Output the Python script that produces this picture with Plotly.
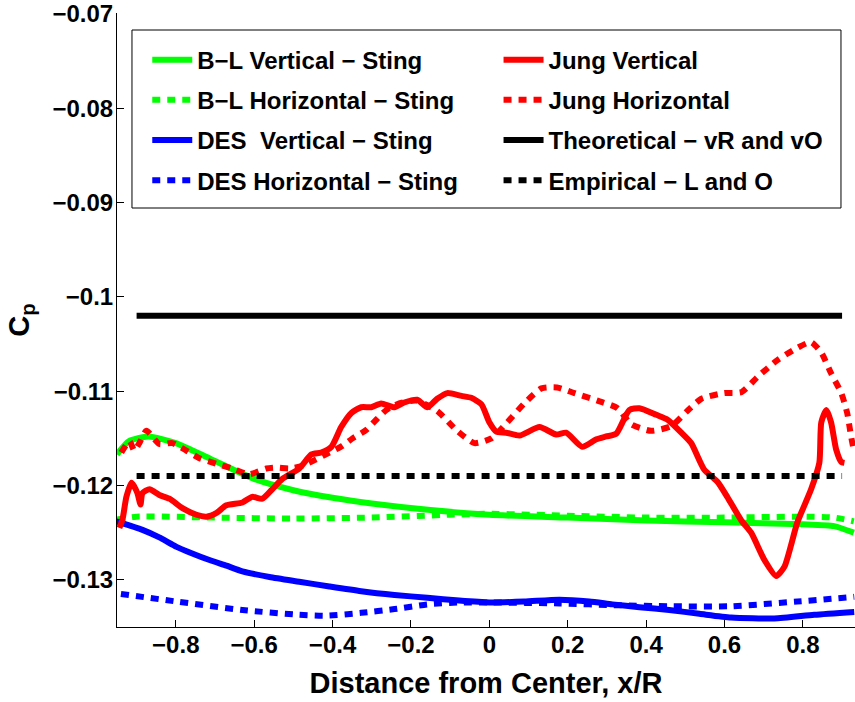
import plotly.graph_objects as go

# --- data ---
bl_vert_x = [-0.95, -0.92, -0.87, -0.8, -0.71, -0.6, -0.5, -0.4, -0.3, -0.15, 0.0, 0.2, 0.4, 0.6, 0.8, 0.88, 0.93]
bl_vert_y = [-0.1167, -0.1153, -0.1148, -0.1155, -0.1172, -0.1193, -0.1205, -0.1213, -0.1219, -0.1226, -0.1231,
             -0.1234, -0.1237, -0.1239, -0.1241, -0.1243, -0.1250]

bl_hor_x = [-0.95, -0.9, -0.7, -0.5, -0.3, -0.1, 0.0, 0.2, 0.4, 0.6, 0.8, 0.88, 0.93]
bl_hor_y = [-0.1236, -0.1233, -0.1234, -0.1235, -0.1234, -0.1231, -0.1230, -0.1232, -0.1234, -0.1234, -0.1233,
            -0.1234, -0.1238]

des_vert_x = [-0.952, -0.885, -0.842, -0.798, -0.758, -0.714, -0.671, -0.630, -0.561, -0.485, -0.408, -0.327,
              -0.242, -0.158, -0.077, 0.0, 0.089, 0.179, 0.255, 0.314, 0.383, 0.459, 0.536, 0.617, 0.727, 0.829, 0.931]
des_vert_y = [-0.1238, -0.1247, -0.1255, -0.1265, -0.1272, -0.1279, -0.1285, -0.1291, -0.1297, -0.1302, -0.1307,
              -0.1312, -0.1316, -0.1319, -0.1322, -0.1324, -0.1323, -0.1321, -0.1323, -0.1326, -0.1329, -0.1332,
              -0.1336, -0.1340, -0.1341, -0.1337, -0.1334]

des_hor_x = [-0.94, -0.798, -0.630, -0.485, -0.413, -0.327, -0.242, -0.158, -0.077, 0.0, 0.179, 0.332, 0.459,
             0.617, 0.786, 0.931]
des_hor_y = [-0.1315, -0.1323, -0.1332, -0.1337, -0.1338, -0.1335, -0.1331, -0.1326, -0.1324, -0.1324, -0.1325,
             -0.1327, -0.1328, -0.1328, -0.1323, -0.1318]

jung_vert_x = [-0.944, -0.936, -0.926, -0.913, -0.906, -0.898, -0.890, -0.885, -0.867, -0.842, -0.816, -0.783,
               -0.747, -0.722, -0.696, -0.671, -0.630, -0.605, -0.579, -0.554, -0.528, -0.485, -0.454, -0.429,
               -0.403, -0.378, -0.352, -0.327, -0.301, -0.276, -0.242, -0.217, -0.184, -0.158, -0.133, -0.107,
               -0.071, -0.046, -0.020, 0.0, 0.018, 0.043, 0.077, 0.128, 0.171, 0.196, 0.237, 0.273, 0.298, 0.324,
               0.357, 0.383, 0.426, 0.454, 0.490, 0.515, 0.548, 0.582, 0.607, 0.643, 0.668, 0.702, 0.732, 0.753,
               0.786, 0.821, 0.842, 0.847, 0.860, 0.872, 0.885, 0.898, 0.906]
jung_vert_y = [-0.1245, -0.1236, -0.1212, -0.1197, -0.1201, -0.1208, -0.1220, -0.1208, -0.1204, -0.1210, -0.1214,
               -0.1224, -0.1231, -0.1233, -0.1229, -0.1221, -0.1218, -0.1212, -0.1214, -0.1204, -0.1193, -0.1182,
               -0.1167, -0.1165, -0.1159, -0.1138, -0.1123, -0.1117, -0.1117, -0.1113, -0.1117, -0.1112, -0.1109,
               -0.1117, -0.1108, -0.1102, -0.1105, -0.1107, -0.1114, -0.1133, -0.1143, -0.1144, -0.1147, -0.1138,
               -0.1146, -0.1144, -0.1159, -0.1151, -0.1148, -0.1145, -0.1120, -0.1118, -0.1125, -0.1130, -0.1144,
               -0.1155, -0.1183, -0.1196, -0.1212, -0.1237, -0.1250, -0.1279, -0.1296, -0.1286, -0.1239, -0.1204,
               -0.1176, -0.1133, -0.1120, -0.1133, -0.1162, -0.1175, -0.1176]

jung_hor_x = [-0.939, -0.918, -0.906, -0.893, -0.875, -0.842, -0.809, -0.773, -0.740, -0.696, -0.656, -0.612,
              -0.569, -0.543, -0.510, -0.477, -0.441, -0.408, -0.375, -0.349, -0.314, -0.288, -0.263, -0.230,
              -0.186, -0.133, -0.082, -0.038, 0.005, 0.046, 0.089, 0.133, 0.173, 0.217, 0.276, 0.327, 0.362,
              0.413, 0.464, 0.505, 0.541, 0.599, 0.643, 0.684, 0.735, 0.786, 0.821, 0.847, 0.872, 0.898, 0.913,
              0.923, 0.931]
jung_hor_y = [-0.1165, -0.1153, -0.1163, -0.1155, -0.1142, -0.1156, -0.1155, -0.1163, -0.1171, -0.1177, -0.1182,
              -0.1188, -0.1182, -0.1181, -0.1182, -0.1179, -0.1172, -0.1165, -0.1158, -0.1150, -0.1141, -0.1130,
              -0.1120, -0.1113, -0.1110, -0.1121, -0.1142, -0.1155, -0.1150, -0.1133, -0.1113, -0.1097, -0.1096,
              -0.1102, -0.1110, -0.1118, -0.1135, -0.1142, -0.1137, -0.1121, -0.1108, -0.1102, -0.1101, -0.1085,
              -0.1067, -0.1054, -0.1048, -0.1059, -0.1081, -0.1102, -0.1123, -0.1148, -0.1165]

theory_x = [-0.9, 0.9]
theory_y = [-0.102, -0.102]
empirical_x = [-0.9, 0.9]
empirical_y = [-0.119, -0.119]

y_ticks = [-0.13, -0.12, -0.11, -0.1, -0.09, -0.08, -0.07]
x_ticks = [-0.8, -0.6, -0.4, -0.2, 0, 0.2, 0.4, 0.6, 0.8]

FONT = "Liberation Sans, Arial, sans-serif"
DOT = "8px,7px"

fig = go.Figure()


def add(x, y, name, color, dash, legend, grp, smooth=False):
    line = dict(color=color, width=6, dash=dash)
    if smooth:
        line.update(shape="spline", smoothing=0.6)
    fig.add_trace(go.Scatter(x=x, y=y, name=name, mode="lines", line=line,
                             legend=legend, legendgroup=grp))


# left legend column
add(bl_vert_x, bl_vert_y, "B\u2212L Vertical \u2212 Sting", "#00ff00", "solid", "legend", "a", True)
add(bl_hor_x, bl_hor_y, "B\u2212L Horizontal \u2212 Sting", "#00ff00", DOT, "legend", "b", True)
add(des_vert_x, des_vert_y, "DES  Vertical \u2212 Sting", "#0000ff", "solid", "legend", "c", True)
add(des_hor_x, des_hor_y, "DES Horizontal \u2212 Sting", "#0000ff", DOT, "legend", "d", True)
# right legend column
add(jung_vert_x, jung_vert_y, "Jung Vertical", "#ff0000", "solid", "legend2", "e", True)
add(jung_hor_x, jung_hor_y, "Jung Horizontal", "#ff0000", DOT, "legend2", "f", True)
add(theory_x, theory_y, "Theoretical \u2212 vR and vO", "#000000", "solid", "legend2", "g")
add(empirical_x, empirical_y, "Empirical \u2212 L and O", "#000000", DOT, "legend2", "h")

leg = dict(font=dict(family=FONT, size=24, color="black", weight="bold"),
           bgcolor="rgba(0,0,0,0)", borderwidth=0, traceorder="grouped",
           tracegroupgap=6, xanchor="left", yanchor="top", itemwidth=40)

axis = dict(ticks="inside", ticklen=7, tickcolor="black", showline=True, linecolor="black",
            linewidth=1, showgrid=False, zeroline=False, mirror=False, automargin=False,
            tickfont=dict(size=24))

fig.update_layout(
    width=855, height=702,
    margin=dict(l=117, r=0, t=13, b=75),
    paper_bgcolor="white", plot_bgcolor="white",
    font=dict(family=FONT, size=24, color="black", weight="bold"),
    showlegend=True,
    legend=dict(leg, x=0.041, y=0.960),
    legend2=dict(leg, x=0.517, y=0.960),
    shapes=[dict(type="rect", xref="paper", yref="paper",
                 x0=0.0203, x1=0.981, y0=0.6824, y1=0.9723,
                 line=dict(color="black", width=1), fillcolor="white", layer="above")],
    xaxis=dict(axis, range=[-0.95, 0.933], tickvals=x_ticks, ticklabelstandoff=-4,
               title=dict(text="Distance from Center, x/R", standoff=15)),
    yaxis=dict(axis, range=[-0.135, -0.0699], tickvals=y_ticks, ticklabelstandoff=-2,
               title=dict(text="C<sub>p</sub>", standoff=14)),
)

# the page has a default body margin; drop it so the figure sits at the window corner
fig.write_html("out.html", config={"displayModeBar": False},
               post_script="document.body.style.margin='0px';")
